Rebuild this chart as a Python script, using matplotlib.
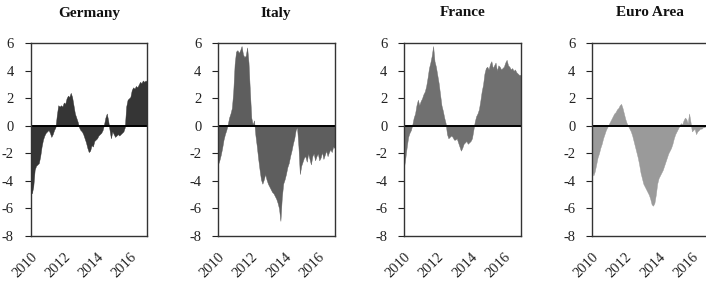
import numpy as np
import matplotlib
matplotlib.use("Agg")
import matplotlib.pyplot as plt

# monthly observations, Jan 2010 .. Jan 2017
start_year = 2010
n_months = 85

germany = [-4.6, -4.9, -4.4, -3.2, -2.9, -2.8, -2.7, -2.2, -1.5, -1.0,
           -0.7, -0.5, -0.4, -0.3, -0.5, -0.8, -0.6, -0.3, -0.1, 0.8,
           1.5, 1.4, 1.5, 1.4, 1.7, 1.6, 2.0, 2.2, 2.1, 2.4,
           2.1, 1.5, 0.9, 0.6, 0.3, -0.1, -0.3, -0.4, -0.6, -0.9,
           -1.2, -1.6, -1.9, -1.8, -1.4, -1.5, -1.1, -1.0, -0.9, -0.7,
           -0.6, -0.5, -0.3, 0.1, 0.6, 0.9, 0.4, -0.3, -0.9, -0.4,
           -0.6, -0.8, -0.7, -0.6, -0.7, -0.6, -0.5, -0.4, -0.1, 1.4,
           1.9, 2.0, 2.1, 2.6, 2.8, 2.7, 2.9, 2.8, 3.0, 3.2,
           3.1, 3.3, 3.2, 3.3, 3.2]

italy = [-2.8, -2.5, -2.1, -1.6, -1.0, -0.6, -0.3, 0.1, 0.6, 0.9,
         1.3, 2.5, 4.5, 5.4, 5.5, 5.3, 5.5, 5.8, 5.2, 5.0,
         5.1, 5.7, 4.6, 2.5, 0.6, 0.1, 0.4, -0.7, -1.5, -2.4,
         -3.2, -3.9, -4.2, -3.9, -3.5, -3.9, -4.2, -4.4, -4.6, -4.8,
         -4.9, -5.1, -5.3, -5.6, -6.0, -6.9, -5.2, -4.2, -3.9, -3.5,
         -3.0, -2.7, -2.2, -1.8, -1.3, -0.9, -0.3, -0.1, -1.5, -3.5,
         -2.9, -2.6, -2.3, -2.2, -2.6, -2.0, -2.4, -2.8, -2.2, -2.0,
         -2.5, -2.2, -2.0, -2.5, -2.3, -1.9, -2.4, -2.1, -1.8, -2.2,
         -1.9, -1.7, -1.9, -1.5, -1.6]

france = [-3.0, -2.3, -1.5, -0.8, -0.5, -0.3, 0.1, 0.6, 0.9, 1.5,
          1.9, 1.5, 1.8, 2.0, 2.3, 2.5, 2.9, 3.5, 4.2, 4.6,
          5.1, 5.8, 4.7, 4.3, 3.7, 3.1, 2.3, 1.5, 1.1, 0.6,
          0.2, -0.6, -0.9, -0.8, -0.7, -0.8, -1.0, -1.0, -0.9, -1.2,
          -1.5, -1.8, -1.6, -1.3, -1.2, -1.1, -1.3, -1.2, -1.1, -0.9,
          -0.3, 0.3, 0.7, 0.9, 1.2, 1.8, 2.5, 3.0, 3.8, 4.2,
          4.3, 4.1, 4.5, 4.7, 4.2, 4.4, 4.6, 4.0, 4.4, 4.3,
          4.1, 4.2, 4.3, 4.6, 4.8, 4.4, 4.3, 4.1, 4.2, 4.0,
          4.1, 3.9, 3.8, 3.7, 3.7]

euro_area = [-3.3, -3.6, -3.3, -2.8, -2.3, -2.0, -1.6, -1.3, -0.9, -0.6,
             -0.3, -0.1, 0.1, 0.3, 0.5, 0.7, 0.9, 1.0, 1.2, 1.3,
             1.5, 1.6, 1.3, 0.9, 0.5, 0.2, 0.0, -0.2, -0.4, -0.7,
             -1.1, -1.5, -1.9, -2.3, -2.8, -3.4, -3.8, -4.2, -4.4, -4.6,
             -4.8, -5.0, -5.3, -5.7, -5.8, -5.6, -5.0, -4.2, -3.8, -3.6,
             -3.4, -3.2, -2.9, -2.6, -2.3, -2.0, -1.8, -1.6, -1.3, -0.9,
             -0.6, -0.4, -0.2, 0.0, 0.2, 0.1, 0.4, 0.6, 0.5, 0.2,
             0.9, 0.3, -0.4, -0.3, -0.2, -0.6, -0.4, -0.3, -0.2, -0.2,
             -0.1, -0.1, 0.0, -0.1, -0.1]

titles = ["Germany", "Italy", "France", "Euro Area"]
series = [germany, italy, france, euro_area]
colors = ["#353535", "#5e5e5e", "#707070", "#9a9a9a"]
yticks = [-8, -6, -4, -2, 0, 2, 4, 6]
xticks = [2010, 2012, 2014, 2016]

t = start_year + np.arange(n_months) / 12.0

plt.rcParams['font.family'] = ['Liberation Serif', 'DejaVu Serif']

W, H = 706, 283
fig = plt.figure(figsize=(W / 100, H / 100), dpi=100)

lefts = [30.5, 218, 404, 592]
width = 116.5
top, bottom = 43.3, 236.0

for i in range(4):
    ax = fig.add_axes([lefts[i] / W, 1 - bottom / H, width / W, (bottom - top) / H])
    y = np.array(series[i])
    ax.fill_between(t, 0, y, color=colors[i], linewidth=0.3, edgecolor=colors[i])
    ax.axhline(0, color="black", linewidth=1.4)
    ax.set_xlim(2010, 2017)
    ax.set_ylim(-8, 6)
    ax.set_yticks(yticks)
    ax.set_yticklabels([str(v) for v in yticks])
    ax.set_xticks(xticks)
    ax.set_xticklabels([str(v) for v in xticks], rotation=45, ha="right",
                       rotation_mode="anchor")
    ax.tick_params(axis="y", length=4, width=0.8, pad=8, labelsize=10.5,
                   colors="#222222")
    ax.tick_params(axis="x", length=0, pad=10, labelsize=10.5, colors="#222222")
    for s in ax.spines.values():
        s.set_linewidth(1.0)
        s.set_color("#333333")
    fig.text((lefts[i] + width / 2) / W, 1 - 13 / H, titles[i],
             ha="center", va="center", fontsize=11, fontweight="bold",
             color="#111111")

fig.savefig("out.png", dpi=100)
